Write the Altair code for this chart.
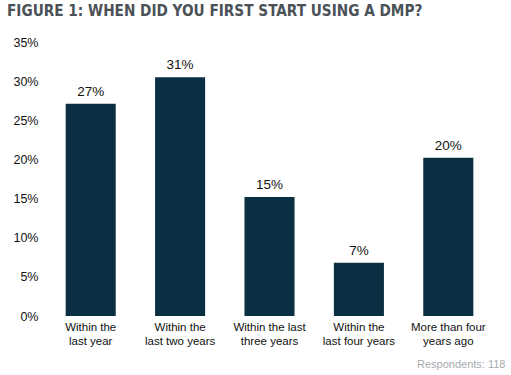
import altair as alt
import pandas as pd

categories = ["Within the|last year", "Within the|last two years", "Within the last|three years",
              "Within the|last four years", "More than four|years ago"]
values = [27.1, 30.5, 15.2, 6.8, 20.2]
labels = ["27%", "31%", "15%", "7%", "20%"]
y_ticks = [0, 5, 10, 15, 20, 25, 30, 35]

df = pd.DataFrame({"cat": categories, "val": values, "lab": labels})

FONT = "Liberation Sans"
BAR = "#0b2f42"

x = alt.X("cat:N", sort=None,
          scale=alt.Scale(paddingInner=0.44, paddingOuter=0.22),
          axis=alt.Axis(title="Respondents: 118", titleFont=FONT, titleFontSize=11,
                        titleFontWeight="normal", titleColor="#a6aaae",
                        titleAnchor="end", titleAlign="right", titleX=459, titleY=51,
                        titleBaseline="alphabetic",
                        labelExpr="split(datum.label, '|')", labelAngle=0,
                        labelFont=FONT, labelFontSize=11.5, labelColor="#111",
                        labelLineHeight=14, labelPadding=5, labelBaseline="top",
                        ticks=False, domain=False, grid=False))
y = alt.Y("val:Q", scale=alt.Scale(domain=[0, 35], nice=False),
          axis=alt.Axis(title=None, values=y_ticks, labelExpr="datum.value + '%'",
                        labelOverlap=False, labelFlush=False,
                        labelFont=FONT, labelFontSize=12.5, labelColor="#111",
                        labelPadding=8, ticks=False, domain=False, grid=False))

bars = alt.Chart(df).mark_bar(color=BAR).encode(x=x, y=y)
text = alt.Chart(df).mark_text(font=FONT, fontSize=13.5, color="#111", baseline="bottom", dy=-5).encode(
    x=x, y=y, text="lab:N")

chart = (bars + text).properties(
    width=447, height=274,
    autosize=alt.AutoSizeParams(type="none"),
    padding={"left": 46, "top": 42, "right": 18, "bottom": 59},
    background="white",
    title=alt.Title("FIGURE 1: WHEN DID YOU FIRST START USING A DMP?", font="DejaVu Sans Condensed",
                    fontSize=15.2, fontWeight="bold", color="#4a5157", anchor="start",
                    frame="group", dx=-39, offset=5, baseline="alphabetic"),
).configure_view(strokeOpacity=0, strokeWidth=0)

chart.save("out.html", embed_options={"renderer": "svg", "actions": False})
